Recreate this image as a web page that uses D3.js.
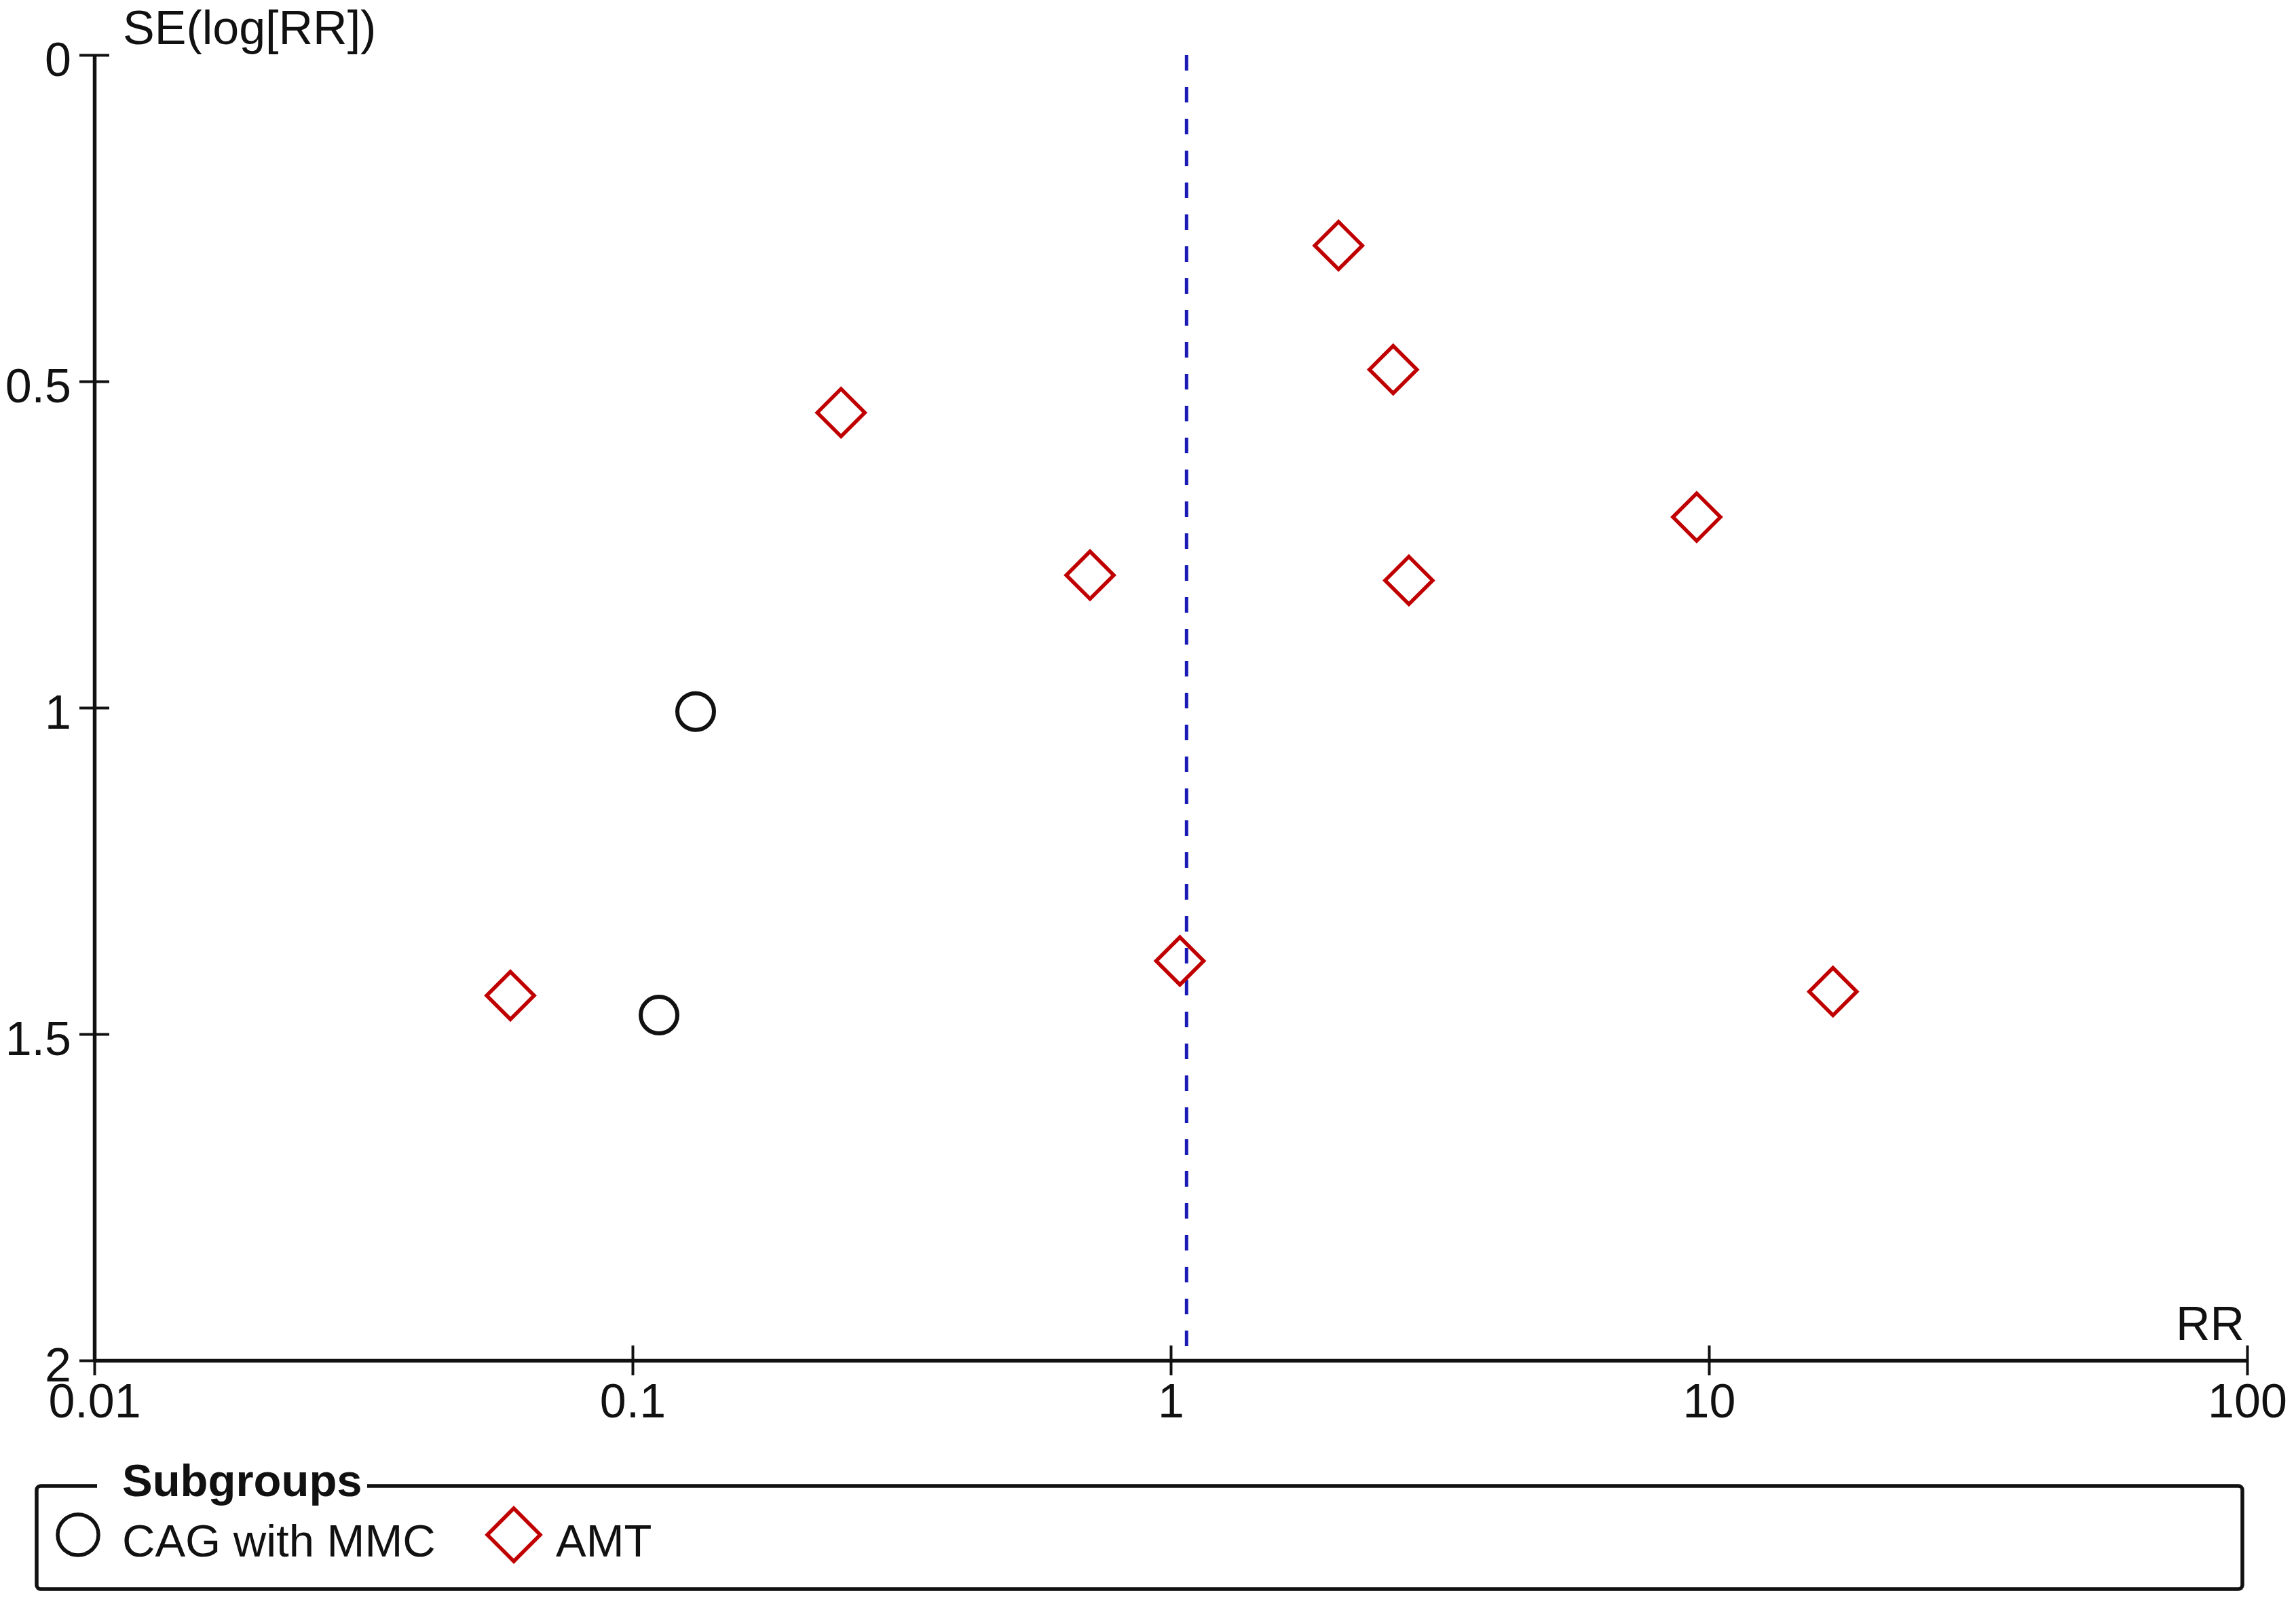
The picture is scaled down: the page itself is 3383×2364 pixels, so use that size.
<!DOCTYPE html>
<html>
<head>
<meta charset="utf-8">
<script src="https://cdn.jsdelivr.net/npm/d3@7"></script>
<style>
  body { margin: 0; background: #fff; }
  text { font-family: "Liberation Sans", Arial, sans-serif; fill: #111; }
</style>
</head>
<body>
<div class="funnel-plot"></div>
<script>
// AMT subgroup (red diamonds)
const amtRR = [2.05, 2.59, 0.244, 0.708, 2.77, 9.49, 1.04, 0.0593, 17.0];
const amtSE = [0.292, 0.482, 0.548, 0.797, 0.805, 0.708, 1.388, 1.441, 1.435];

// CAG with MMC subgroup (black circles)
const cagRR = [0.131, 0.112];
const cagSE = [1.006, 1.471];

// pooled estimate (dashed line)
const pooledRR = 1.07;

const xTicks = [0.01, 0.1, 1, 10, 100];
const xTickLabels = ["0.01", "0.1", "1", "10", "100"];
const yTicks = [0, 0.5, 1, 1.5, 2];
const yTickLabels = ["0", "0.5", "1", "1.5", "2"];
const subgroups = ["CAG with MMC", "AMT"];

const width = 3383,
    height = 2364;

const svg = d3.select(".funnel-plot")
    .append("svg")
    .attr("width", width)
    .attr("height", height);

svg.append("rect").attr("width", width).attr("height", height).attr("fill", "#fff");

const x = d3.scaleLog()
    .domain([0.01, 100])
    .range([139, 3311]);

const y = d3.scaleLinear()
    .domain([0, 2])
    .range([81, 2005]);

const red = "#c00000";
const blue = "#1a1ab4";

// x axis
const xAxis = svg.append("g")
    .attr("transform", `translate(0, ${y(2)})`)
    .call(d3.axisBottom(x)
        .tickValues(xTicks)
        .tickFormat((d, i) => xTickLabels[i])
        .tickSizeOuter(0));

// y axis
const yAxis = svg.append("g")
    .attr("transform", `translate(${x(0.01)}, 0)`)
    .call(d3.axisLeft(y)
        .tickValues(yTicks)
        .tickFormat((d, i) => yTickLabels[i])
        .tickSizeOuter(0));

[xAxis, yAxis].forEach(g => {
    g.select(".domain").attr("stroke", "#111").attr("stroke-width", 5.5);
    g.selectAll(".tick line").attr("stroke", "#111").attr("stroke-width", 4);
    g.selectAll(".tick text")
        .style("font-family", '"Liberation Sans", Arial, sans-serif')
        .style("font-size", "70px")
        .attr("fill", "#111");
});

// ticks cross the axis line
xAxis.selectAll(".tick line").attr("y1", -22).attr("y2", 22);
xAxis.selectAll(".tick text").attr("y", 84).attr("dy", null);
yAxis.selectAll(".tick line").attr("x1", -22).attr("x2", 22);
yAxis.selectAll(".tick text").attr("x", -34).attr("dy", 30);

// axis titles
svg.append("text")
    .attr("x", 181)
    .attr("y", 65)
    .style("font-size", "70px")
    .text("SE(log[RR])");

svg.append("text")
    .attr("x", x(100) - 4)
    .attr("y", y(2) - 30)
    .attr("text-anchor", "end")
    .style("font-size", "70px")
    .text("RR");

// pooled estimate line
svg.append("line")
    .attr("x1", x(pooledRR))
    .attr("x2", x(pooledRR))
    .attr("y1", y(0))
    .attr("y2", y(1.99))
    .attr("stroke", blue)
    .attr("stroke-width", 5)
    .attr("stroke-dasharray", "23,24");

// diamond outline around a centre
function diamond(cx, cy, r) {
    return `M${cx},${cy - r}L${cx + r},${cy}L${cx},${cy + r}L${cx - r},${cy}Z`;
}

const amtData = amtRR.map((d, i) => ({ rr: d, se: amtSE[i] }));
const cagData = cagRR.map((d, i) => ({ rr: d, se: cagSE[i] }));

svg.selectAll(".amt")
    .data(amtData)
    .join("path")
    .attr("class", "amt")
    .attr("d", d => diamond(x(d.rr), y(d.se), 35))
    .attr("fill", "none")
    .attr("stroke", red)
    .attr("stroke-width", 5.5);

svg.selectAll(".cag")
    .data(cagData)
    .join("circle")
    .attr("class", "cag")
    .attr("cx", d => x(d.rr))
    .attr("cy", d => y(d.se))
    .attr("r", 27)
    .attr("fill", "none")
    .attr("stroke", "#111")
    .attr("stroke-width", 6);

// legend box
const legend = svg.append("g");

legend.append("rect")
    .attr("x", 54)
    .attr("y", 2190)
    .attr("width", 3250)
    .attr("height", 152)
    .attr("rx", 6)
    .attr("fill", "none")
    .attr("stroke", "#111")
    .attr("stroke-width", 5.5);

legend.append("rect")
    .attr("x", 143)
    .attr("y", 2180)
    .attr("width", 398)
    .attr("height", 20)
    .attr("fill", "#fff");

legend.append("text")
    .attr("x", 180)
    .attr("y", 2205)
    .style("font-size", "67px")
    .style("font-weight", "bold")
    .attr("fill", "#333")
    .text("Subgroups");

legend.append("circle")
    .attr("cx", 115)
    .attr("cy", 2262)
    .attr("r", 30)
    .attr("fill", "none")
    .attr("stroke", "#111")
    .attr("stroke-width", 5.5);

legend.append("text")
    .attr("x", 180)
    .attr("y", 2294)
    .style("font-size", "67px")
    .attr("fill", "#333")
    .text(subgroups[0]);

legend.append("path")
    .attr("d", diamond(757, 2262, 39))
    .attr("fill", "none")
    .attr("stroke", red)
    .attr("stroke-width", 5.5);

legend.append("text")
    .attr("x", 819)
    .attr("y", 2294)
    .style("font-size", "67px")
    .attr("fill", "#333")
    .text(subgroups[1]);
</script>
</body>
</html>
